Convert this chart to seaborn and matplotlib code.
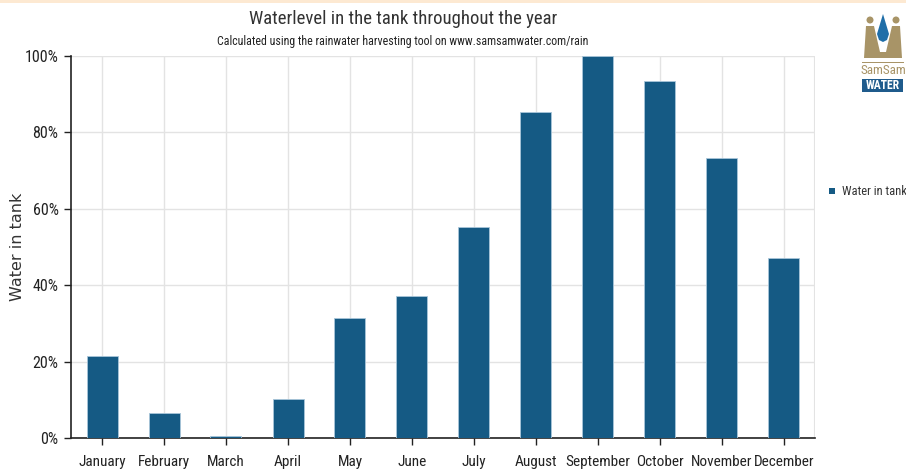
import matplotlib
matplotlib.use("Agg")
import matplotlib.pyplot as plt
from matplotlib.patches import Rectangle, Ellipse, Polygon
import seaborn as sns
import pandas as pd

months = ["January", "February", "March", "April", "May", "June",
          "July", "August", "September", "October", "November", "December"]
water_pct = [21.5, 6.5, 0.5, 10.3, 31.3, 37.3, 55.3, 85.3, 100.0, 93.4, 73.3, 47.2]
y_ticks = [0, 20, 40, 60, 80, 100]
y_tick_labels = ["0%", "20%", "40%", "60%", "80%", "100%"]
series_name = "Water in tank"

BAR = "#155a84"
TAN = "#a89467"
COND = ["Roboto Condensed", "DejaVu Sans"]

sns.set_theme(style="white")
plt.rcParams["font.family"] = COND

df = pd.DataFrame({"month": months, "pct": water_pct})

fig = plt.figure(figsize=(9.06, 4.73), dpi=100)
fig.patch.set_facecolor("white")
ax = fig.add_axes([71 / 906, 1 - 438 / 473, (815 - 71) / 906, (438 - 56) / 473])

sns.barplot(data=df, x="month", y="pct", color=BAR, saturation=1, width=0.5,
            edgecolor="#a9c6da", linewidth=0.6, ax=ax, zorder=3)

ax.set_xlim(-0.5, 11.5)
ax.set_ylim(0, 100)
ax.set_yticks(y_ticks)
ax.set_yticklabels(y_tick_labels)
ax.set_xticks(range(len(months)))
ax.set_xticklabels(months)
ax.set_xlabel("")
ax.set_ylabel(series_name, family="DejaVu Sans", fontsize=11.5, color="#333333")
ax.yaxis.set_label_coords(-0.062, 0.5)

ax.grid(True, axis="both", color="#e3e3e3", linewidth=1, zorder=0)
ax.set_axisbelow(True)
for side in ("top", "right"):
    ax.spines[side].set_visible(False)
ax.axvline(11.5, color="#e3e3e3", linewidth=1.5, zorder=0)
for side in ("left", "bottom"):
    ax.spines[side].set_color("#222222")
    ax.spines[side].set_linewidth(1.2)
ax.tick_params(axis="both", which="both", direction="out", length=5, width=1,
               color="#222222", labelcolor="#222222", pad=4,
               left=True, bottom=True)
ax.tick_params(axis="x", labelsize=11, pad=7)
ax.tick_params(axis="y", labelsize=11.5)

# titles
cx = 403 / 906
fig.text(cx, 1 - 19 / 473, "Waterlevel in the tank throughout the year",
         ha="center", va="center", fontsize=13.5, color="#333333")
fig.text(cx, 1 - 41 / 473,
         "Calculated using the rainwater harvesting tool on www.samsamwater.com/rain",
         ha="center", va="center", fontsize=8.6, color="#222222")

# top band
fig.patches.append(Rectangle((0, 1 - 3 / 473), 1, 3 / 473, transform=fig.transFigure,
                             facecolor="#fde9d2", edgecolor="none"))

# legend
fig.patches.append(Rectangle((829 / 906, 1 - 194 / 473), 6 / 906, 6 / 473,
                             transform=fig.transFigure, facecolor=BAR, edgecolor="none"))
fig.text(842 / 906, 1 - 191 / 473, series_name, ha="left", va="center",
         fontsize=9, color="#333333")

# logo
def fx(px):
    return px / 906


def fy(py):
    return 1 - py / 473


for hx in (870, 896):
    fig.patches.append(Ellipse((fx(hx), fy(20)), 7 / 906, 7 / 473,
                               transform=fig.transFigure, facecolor=TAN, edgecolor="none"))
fig.patches.append(Polygon([(fx(864), fy(58)), (fx(866), fy(26)), (fx(874), fy(26)),
                            (fx(880), fy(52)), (fx(886), fy(52)), (fx(892), fy(26)),
                            (fx(900), fy(26)), (fx(902), fy(58))],
                           closed=True, transform=fig.transFigure,
                           facecolor=TAN, edgecolor="none"))
fig.patches.append(Polygon([(fx(883), fy(14)), (fx(877), fy(34)), (fx(879), fy(40)),
                            (fx(883), fy(42)), (fx(887), fy(40)), (fx(889), fy(34))],
                           closed=True, transform=fig.transFigure,
                           facecolor="#1f6ea8", edgecolor="none"))
fig.patches.append(Rectangle((fx(862), fy(63)), 42 / 906, 1.2 / 473,
                             transform=fig.transFigure, facecolor=TAN, edgecolor="none"))
fig.text(fx(883), fy(71), "SamSam", ha="center", va="center",
         fontsize=9.5, color=TAN)
fig.patches.append(Rectangle((fx(862), fy(92)), 41 / 906, 13 / 473,
                             transform=fig.transFigure, facecolor="#1f5b8c", edgecolor="none"))
fig.text(fx(882.5), fy(85.5), "WATER", ha="center", va="center",
         fontsize=8.5, color="white", fontweight="bold")

fig.savefig("out.png", dpi=100)
